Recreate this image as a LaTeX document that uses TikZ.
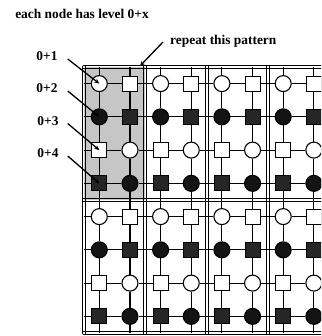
\documentclass[tikz,border=0pt]{standalone}
\usepackage{fontspec}
\setmainfont{Liberation Serif}
\usetikzlibrary{arrows.meta,calc}
\begin{document}
\begin{tikzpicture}[x=1pt,y=-1pt,
  lab/.style={font=\fontsize{13.4}{14}\selectfont\bfseries, inner sep=0pt},
  nd/.style={draw=black, line width=1.1pt, inner sep=0pt},
  wc/.style={nd, circle, minimum size=16pt, fill=white},
  dc/.style={nd, circle, minimum size=16pt, fill=black!92},
  ws/.style={nd, rectangle, minimum size=15pt, fill=white},
  ds/.style={nd, rectangle, minimum size=15pt, fill=black!85},
  ln/.style={line width=1.1pt},
  bd/.style={line width=0.9pt},
  arr/.style={line width=1.3pt, -{Stealth[length=5pt,width=4.5pt]}}]
\useasboundingbox (0,0) rectangle (321,336);
\clip (0,0) rectangle (321,336);
% shaded pattern block
\fill[gray!45] (84,67) rectangle (145.3,200);
% block borders (double lines)
\foreach \bx in {84,145.3,206.6,267.9,329.2}{
  \draw[bd] (\bx-1.4,67-1.4) -- (\bx-1.4,333+1.4);
  \draw[bd] (\bx+1.4,67-1.4) -- (\bx+1.4,333+1.4);
}
\foreach \by in {67,200,333}{
  \draw[bd] (84-1.4,\by-1.4) -- (330.6,\by-1.4);
  \draw[bd] (84-1.4,\by+1.4) -- (330.6,\by+1.4);
}
\coordinate (L) at (84,67);
\coordinate (T) at (84,67);
\coordinate (B) at (84,333);
\coordinate (R) at (329.2,67);
% nodes
\foreach \r in {1,...,8}{
  \foreach \c in {1,...,8}{
    \pgfmathtruncatemacro{\rr}{mod(\r-1,4)+1}
    \pgfmathtruncatemacro{\cc}{mod(\c-1,2)+1}
    \pgfmathtruncatemacro{\isc}{((\rr<3 && \cc==1) || (\rr>2 && \cc==2)) ? 1 : 0}
    \pgfmathtruncatemacro{\isd}{(mod(\rr,2)==0) ? 1 : 0}
    \pgfmathsetmacro{\px}{99.3+30.65*(\c-1)}
    \pgfmathsetmacro{\py}{83.6+33.25*(\r-1)}
    \ifnum\isc=1
      \ifnum\isd=1 \def\st{dc}\else\def\st{wc}\fi
    \else
      \ifnum\isd=1 \def\st{ds}\else\def\st{ws}\fi
    \fi
    \edef\tmp{\noexpand\node[\st] (n-\r-\c) at (\px,\py) {};}
    \tmp
  }
}
% connectors
\foreach \r in {1,...,8}{
  \foreach \c [count=\cn from 2] in {1,...,7}{
    \draw[ln] (n-\r-\c) -- (n-\r-\cn);
  }
  \draw[ln] (n-\r-1.west) -- (n-\r-1 -| L);
  \draw[ln] (n-\r-8.east) -- (n-\r-8 -| R);
}
\foreach \c in {1,...,8}{
  \foreach \r [count=\rn from 2] in {1,...,7}{
    \draw[ln] (n-\r-\c) -- (n-\rn-\c);
  }
  \draw[ln] (n-1-\c.north) -- (n-1-\c |- T);
  \draw[ln] (n-8-\c.south) -- (n-8-\c |- B);
}
% labels
\node[lab] (title) at (82,14) {each node has level 0+x};
\node[lab] (l1) at (47,56) {0+1};
\node[lab] (l2) at (47,88) {0+2};
\node[lab] (l3) at (48,121.5) {0+3};
\node[lab] (l4) at (48,153) {0+4};
\node[lab, anchor=west] (rep) at (170,41) {repeat this pattern};
\coordinate (rpend) at (140,66);
\draw[arr] ([xshift=10pt,yshift=-3pt]l1.east) -- (n-1-1.center);
\draw[arr] ([xshift=10pt,yshift=-3pt]l2.east) -- (n-2-1.center);
\draw[arr] ([xshift=9pt,yshift=-2pt]l3.east) -- (n-3-1.center);
\draw[arr] ([xshift=9pt,yshift=-3pt]l4.east) -- (n-4-1.center);
\draw[arr] ([xshift=-7pt,yshift=-1pt]rep.west) -- (rpend);
\end{tikzpicture}
\end{document}
